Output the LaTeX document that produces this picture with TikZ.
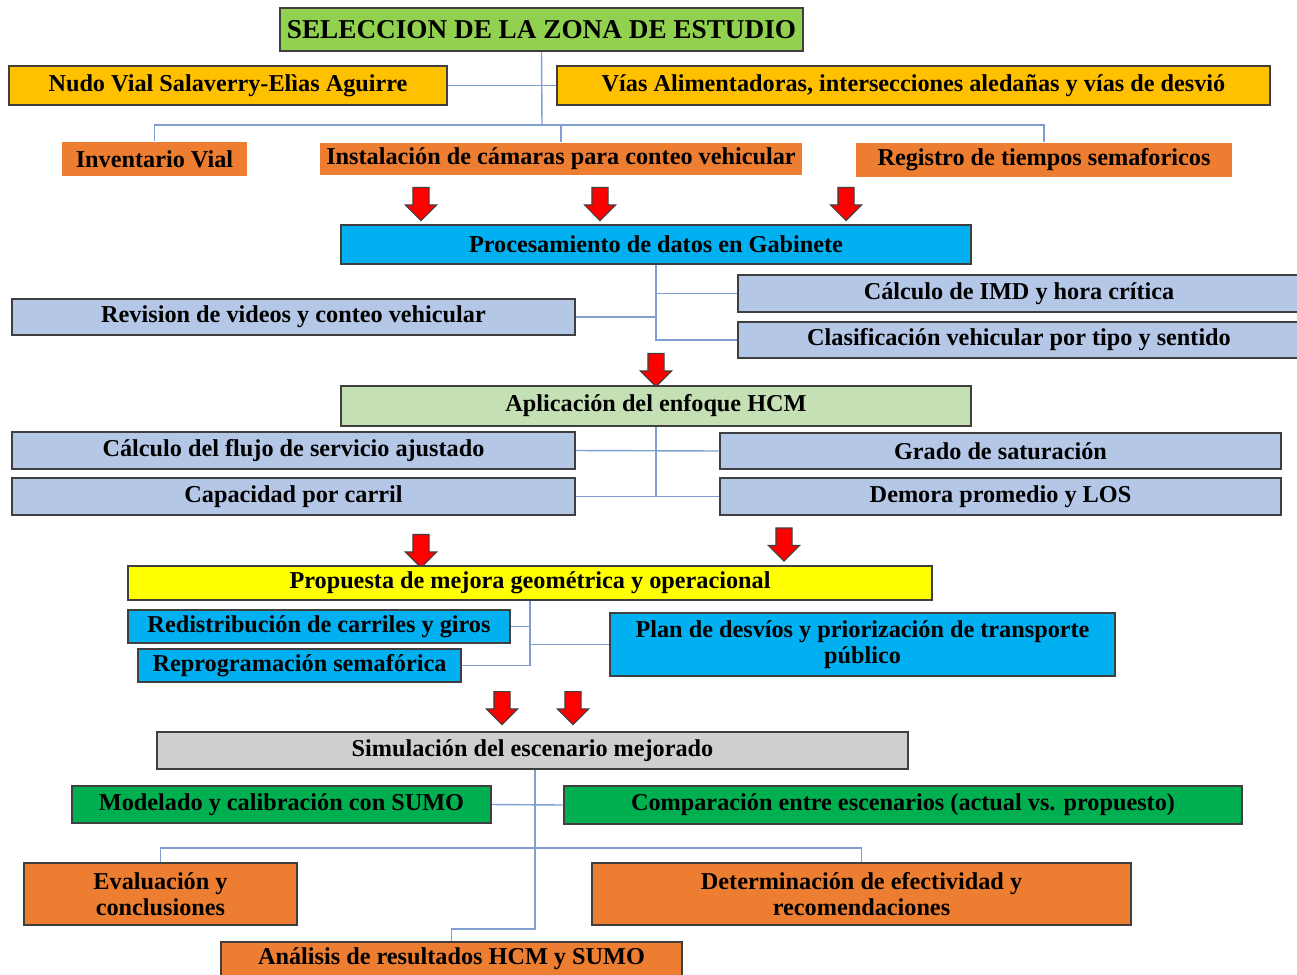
\documentclass[tikz,border=0pt]{standalone}
\usepackage{fontspec}
\setmainfont{Liberation Serif}
\usetikzlibrary{positioning, shapes.arrows, calc}
\definecolor{boxline}{HTML}{3F3F3F}
\definecolor{mylink}{HTML}{7F9FD3}
\definecolor{titlegreen}{HTML}{92D050}
\definecolor{myamber}{HTML}{FFC000}
\definecolor{myorange}{HTML}{ED7D31}
\definecolor{mycyan}{HTML}{00B0F0}
\definecolor{mypaleblue}{HTML}{B4C7E7}
\definecolor{mypalegreen}{HTML}{C5E0B4}
\definecolor{myyellow}{HTML}{FFFF00}
\definecolor{mygray}{HTML}{D0CECE}
\definecolor{mygreen}{HTML}{00B050}
\definecolor{myred}{HTML}{FF0000}
\tikzset{
	basebox/.style={
			draw=boxline,
			line width=0.9pt,
			align=center,
			inner sep=1pt,
			font=\bfseries\fontsize{13.8}{14.5}\selectfont
		},
	titlebox/.style={
			basebox,
			fill=titlegreen,
			font=\bfseries\fontsize{15.5}{17}\selectfont
		},
	amberbox/.style={basebox, fill=myamber},
	orangebox/.style={basebox, fill=myorange},
	flatorange/.style={basebox, draw=none, fill=myorange},
	cyanbox/.style={basebox, fill=mycyan},
	palebox/.style={basebox, fill=mypaleblue},
	hcmbox/.style={basebox, fill=mypalegreen},
	yellowbox/.style={basebox, fill=myyellow},
	graybox/.style={basebox, fill=mygray},
	greenbox/.style={basebox, fill=mygreen},
	link/.style={draw=mylink, line width=0.8pt},
	downarrow/.style={
			single arrow,
			draw=boxline,
			fill=myred,
			line width=0.6pt,
			rotate=-90,
			inner sep=0.15cm,
			single arrow head extend=0.15cm,
			single arrow head indent=0pt,
			minimum height=0.66cm
		}
}

\begin{document}
\begin{tikzpicture}[x=0.02cm, y=-0.02cm]
\useasboundingbox (0,0) rectangle (1297,974);

\node[titlebox, minimum width=10.46cm, minimum height=0.86cm] (tSel) at (541.5,29.5) {SELECCION DE LA ZONA DE ESTUDIO};
\node[amberbox, minimum width=8.76cm, minimum height=0.78cm] (tNudo) at (228,85.5) {Nudo Vial Salaverry-Elìas Aguirre};
\node[amberbox, minimum width=14.26cm, minimum height=0.78cm] (tVias) at (913.5,85.5) {Vías Alimentadoras, intersecciones aledañas y vías de desvió};
\node[flatorange, minimum width=3.7cm, minimum height=0.68cm] (tInv) at (154.5,159) {Inventario Vial};
\node[flatorange, minimum width=9.64cm, minimum height=0.64cm] (tInst) at (561,159) {Instalación de cámaras para conteo vehicular};
\node[flatorange, minimum width=7.52cm, minimum height=0.68cm] (tReg) at (1044,160) {Registro de tiempos semaforicos};

\node[downarrow] (aP1) at (421,200) {};
\node[downarrow] (aP2) at (600,200) {};
\node[downarrow] (aP3) at (846,200) {};

\node[cyanbox, minimum width=12.6cm, minimum height=0.78cm] (tProc) at (656,244.5) {Procesamiento de datos en Gabinete};
\node[palebox, minimum width=11.26cm, minimum height=0.72cm] (tRev) at (293.5,317) {Revision de videos y conteo vehicular};
\node[palebox, minimum width=11.24cm, minimum height=0.74cm] (tImd) at (1019,293.5) {Cálculo de IMD y hora crítica};
\node[palebox, minimum width=11.24cm, minimum height=0.72cm] (tClas) at (1019,340) {Clasificación vehicular por tipo y sentido};

\node[downarrow] (aH) at (656,366) {};

\node[hcmbox, minimum width=12.6cm, minimum height=0.8cm] (tHcm) at (656,406) {Aplicación del enfoque HCM};
\node[palebox, minimum width=11.26cm, minimum height=0.74cm] (tFlujo) at (293.5,450.5) {Cálculo del flujo de servicio ajustado};
\node[palebox, minimum width=11.26cm, minimum height=0.74cm] (tCap) at (293.5,496.5) {Capacidad por carril};
\node[palebox, minimum width=11.22cm, minimum height=0.72cm] (tGrado) at (1000.5,451) {Grado de saturación};
\node[palebox, minimum width=11.22cm, minimum height=0.74cm] (tDemora) at (1000.5,496.5) {Demora promedio y LOS};

\node[downarrow] (aM1) at (421,547) {};
\node[downarrow] (aM2) at (784,540.5) {};

\node[yellowbox, minimum width=16.08cm, minimum height=0.68cm] (tProp) at (530,583) {Propuesta de mejora geométrica y operacional};
\node[cyanbox, minimum width=7.64cm, minimum height=0.66cm] (tRedis) at (319,626.5) {Redistribución de carriles y giros};
\node[cyanbox, minimum width=6.46cm, minimum height=0.66cm] (tReprog) at (299.5,665.5) {Reprogramación semafórica};
\node[cyanbox, minimum width=10.1cm, minimum height=1.26cm] (tPlan) at (862.5,644.5) {Plan de desvíos y priorización de transporte\\público};

\node[downarrow] (aS1) at (502,704) {};
\node[downarrow] (aS2) at (573,704) {};

\node[graybox, minimum width=15.02cm, minimum height=0.74cm] (tSim) at (532.5,750.5) {Simulación del escenario mejorado};
\node[greenbox, minimum width=8.38cm, minimum height=0.74cm] (tMod) at (281.5,804.5) {Modelado y calibración con SUMO};
\node[greenbox, minimum width=13.56cm, minimum height=0.76cm] (tComp) at (903,805) {Comparación entre escenarios (actual vs. propuesto)};
\node[orangebox, minimum width=5.46cm, minimum height=1.24cm] (tEval) at (160.5,894) {Evaluación y\\conclusiones};
\node[orangebox, minimum width=10.78cm, minimum height=1.24cm] (tDet) at (861.5,894) {Determinación de efectividad y\\recomendaciones};
\node[orangebox, minimum width=9.22cm, minimum height=0.68cm] (tAnal) at (451.5,959) {Análisis de resultados HCM y SUMO};

% zona de estudio
\coordinate (kTop) at (542,125);
\coordinate (kSim) at (535,848);
\draw[link] (tSel.south) -- (kTop);
\draw[link] (tNudo.east) -- (tVias.west);
\draw[link] (tInv.north) |- (kTop);
\draw[link] (tInst.north) |- (kTop);
\draw[link] (tReg.north) |- (kTop);

% gabinete
\draw[link] (tProc.south) |- (tImd.west);
\draw[link] (tProc.south) |- (tClas.west);
\draw[link] (tRev.east) -- (tRev.east -| tProc.south);

% HCM
\draw[link] (tHcm.south) -- (tHcm.south |- tDemora.west);
\draw[link] (tFlujo.east) -- (tGrado.west);
\draw[link] (tCap.east) -- (tDemora.west);

% propuesta
\draw[link] (tProp.south) |- (tRedis.east);
\draw[link] (tProp.south) |- (tReprog.east);
\draw[link] (tPlan.west) -- (tPlan.west -| tProp.south);

% simulacion
\draw[link] (tMod.east) -- (tComp.west);
\draw[link] (tSim.south -| kSim) -- ++(0,159) -| (tAnal.north);
\draw[link] (tEval.north) |- (kSim);
\draw[link] (tDet.north) |- (kSim);

\end{tikzpicture}
\end{document}
